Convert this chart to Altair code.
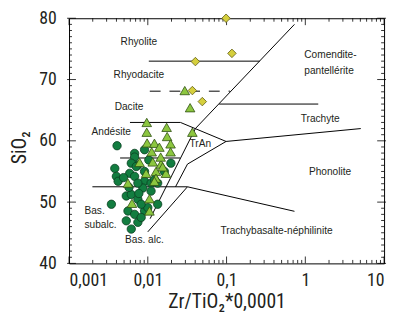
import altair as alt
import pandas as pd

# ---------------- data ----------------
# basalt/andesite samples (dark green circles)
circ_x = [0.00407, 0.0068, 0.00909, 0.0068, 0.00748, 0.00617, 0.00381, 0.00399, 0.0042, 0.00589,
          0.00713, 0.0068, 0.00909, 0.00909, 0.00865, 0.00748, 0.011, 0.01214, 0.01335, 0.01963,
          0.01622, 0.00345, 0.00533, 0.00617, 0.00748, 0.0056, 0.0068, 0.00909, 0.00748, 0.00617,
          0.01335, 0.01, 0.00824, 0.011, 0.00533, 0.00824, 0.00492, 0.0103, 0.0077, 0.00577]
circ_y = [59.2, 57.95, 58.55, 57.35, 56.05, 56.35, 55.5, 54.2, 53.4, 54.7,
          55.8, 54.2, 55.0, 53.4, 52.3, 53.1, 53.1, 53.65, 53.1, 56.35,
          55.0, 49.65, 51.0, 51.25, 50.45, 48.55, 48.0, 48.55, 46.7, 45.6,
          49.65, 49.1, 49.65, 51.8, 46.95, 47.5, 54.0, 56.87, 51.4, 52.4]

# light green triangles
tri_x = [0.0097, 0.0097, 0.01734, 0.0176, 0.01946, 0.01946, 0.0098, 0.01214, 0.01403, 0.0112,
         0.00787, 0.01156, 0.0147, 0.0127, 0.00952, 0.0170, 0.0056, 0.0127, 0.0105, 0.0063,
         0.0105, 0.02946, 0.03445, 0.0368, 0.01545, 0.01457, 0.01214]
tri_y = [63.0, 61.4, 62.2, 60.7, 59.5, 58.2, 59.65, 59.6, 58.96, 58.2,
         56.47, 56.55, 56.2, 55.0, 54.7, 54.7, 53.1, 53.9, 50.55, 49.8,
         48.55, 68.2, 65.4, 61.4, 55.75, 57.35, 53.4]

# yellow diamonds
dia_x = [0.0986, 0.0402, 0.117, 0.0368, 0.0492]
dia_y = [80.0, 72.93, 74.27, 68.2, 66.4]

# field boundaries (Winchester & Floyd)
seg_A_x, seg_A_y = [0.0103, 0.264], [73.0, 73.0]
seg_C_x, seg_C_y = [0.728, 0.0402, 0.0107], [79.0, 62.0, 47.3]
seg_D_x, seg_D_y = [0.00594, 0.026, 0.0986], [63.0, 63.0, 59.9]
seg_E_x, seg_E_y = [0.0986, 5.06], [59.9, 62.0]
seg_F_x, seg_F_y = [0.0805, 1.46], [66.0, 66.0]
seg_G_x, seg_G_y = [0.0986, 0.0319, 0.0225], [59.9, 56.2, 52.5]
seg_H_x, seg_H_y = [0.00445, 0.0258], [57.2, 57.2]
seg_I_x, seg_I_y = [0.00198, 0.0319], [52.5, 52.5]
seg_J_x, seg_J_y = [0.0319, 0.728], [52.5, 48.5]
seg_K_x, seg_K_y = [0.0319, 0.01], [52.5, 45.15]
dash_x, dash_y = [0.0106, 0.111], [68.1, 68.1]

# field names
lab_c_text = ["Rhyolite", "Rhyodacite", "Dacite", "Andésite", "Trachyte", "TrAn",
              "Phonolite", "Trachybasalte-néphilinite"]
lab_c_x = [0.00771, 0.00771, 0.00577, 0.00343, 1.545, 0.0464, 2.06, 0.4315]
lab_c_y = [76.15, 70.7, 65.55, 61.4, 63.6, 59.44, 54.95, 45.3]

lab_l_text = ["Comendite-", "pantellérite", "Bas.", "subalc.", "Bas. alc."]
lab_l_x = [0.97, 0.97, 0.00157, 0.00157, 0.00514]
lab_l_y = [74.06, 71.33, 48.52, 46.27, 43.86]

x_major = [0.001, 0.01, 0.1, 1, 10]
x_minor = [m * 10.0 ** k for k in range(-3, 1) for m in range(2, 10)]
y_major = [40, 50, 60, 70, 80]
y_minor = [v for v in range(41, 80) if v % 10 != 0]

# ---------------- chart ----------------
W, H = 320, 249
COND = "Roboto Condensed, Roboto, sans-serif"
TXT = "Liberation Sans, Arial, sans-serif"

xs = alt.Scale(type="log", domain=[0.001, 10], nice=False)
ys = alt.Scale(domain=[40, 80], nice=False, zero=False)

xaxis = alt.Axis(values=x_major, labelExpr="replace(toString(datum.value), '.', ',')",
                 title="Zr/TiO₂*0,0001", labelPadding=8, titleY=45,
                 titleBaseline="alphabetic")
yaxis = alt.Axis(values=y_major, title="SiO₂", labelPadding=13, titleX=-50, titleY=131,
                 titleAngle=270, titleBaseline="middle", titleAlign="center")

X = lambda: alt.X("x:Q", scale=xs, axis=xaxis)
Y = lambda: alt.Y("y:Q", scale=ys, axis=yaxis)

segs = {"A": (seg_A_x, seg_A_y), "C": (seg_C_x, seg_C_y), "D": (seg_D_x, seg_D_y),
        "E": (seg_E_x, seg_E_y), "F": (seg_F_x, seg_F_y), "G": (seg_G_x, seg_G_y),
        "H": (seg_H_x, seg_H_y), "I": (seg_I_x, seg_I_y), "J": (seg_J_x, seg_J_y),
        "K": (seg_K_x, seg_K_y)}
rows = []
for k, (sx, sy) in segs.items():
    for i, (a, b) in enumerate(zip(sx, sy)):
        rows.append({"seg": k, "o": i, "x": a, "y": b})
df_lines = pd.DataFrame(rows)
df_dash = pd.DataFrame({"seg": "B", "o": [0, 1], "x": dash_x, "y": dash_y})

lines = alt.Chart(df_lines).mark_line(color="black", strokeWidth=1).encode(
    x=X(), y=Y(), detail="seg:N", order="o:Q")
dashed = alt.Chart(df_dash).mark_line(color="black", strokeWidth=1, strokeDash=[11, 9]).encode(
    x=X(), y=Y(), detail="seg:N", order="o:Q")

df_xmaj = pd.DataFrame({"x": x_major})
df_xmin = pd.DataFrame({"x": x_minor})
df_ymaj = pd.DataFrame({"y": y_major})
df_ymin = pd.DataFrame({"y": y_minor})

tk = dict(color="black", strokeWidth=0.8)
ticks = [
    alt.Chart(df_xmin).mark_rule(**tk).encode(x=X(), y=alt.value(H), y2=alt.value(H - 3.5)),
    alt.Chart(df_xmaj).mark_rule(**tk).encode(x=X(), y=alt.value(H), y2=alt.value(H - 7)),
    alt.Chart(df_xmin).mark_rule(**tk).encode(x=X(), y=alt.value(0), y2=alt.value(3.5)),
    alt.Chart(df_xmaj).mark_rule(**tk).encode(x=X(), y=alt.value(0), y2=alt.value(7)),
    alt.Chart(df_ymin).mark_rule(**tk).encode(y=Y(), x=alt.value(0), x2=alt.value(3)),
    alt.Chart(df_ymaj).mark_rule(**tk).encode(y=Y(), x=alt.value(-2), x2=alt.value(7)),
    alt.Chart(df_ymin).mark_rule(**tk).encode(y=Y(), x=alt.value(W), x2=alt.value(W - 3)),
    alt.Chart(df_ymaj).mark_rule(**tk).encode(y=Y(), x=alt.value(W + 2), x2=alt.value(W - 7)),
]

df_c = pd.DataFrame({"x": circ_x, "y": circ_y})
df_t = pd.DataFrame({"x": tri_x, "y": tri_y})
df_d = pd.DataFrame({"x": dia_x, "y": dia_y})

circles = alt.Chart(df_c).mark_point(shape="circle", filled=True, size=72, fill="#127d40",
                                     stroke="#0a3f20", strokeWidth=0.8, opacity=1).encode(x=X(), y=Y())
tris = alt.Chart(df_t).mark_point(shape="triangle-up", filled=True, size=95, fill="#8cc63f",
                                  stroke="#2e4f12", strokeWidth=0.8, opacity=1).encode(x=X(), y=Y())
dias = alt.Chart(df_d).mark_point(shape="diamond", filled=True, size=75, fill="#d5cf3d",
                                  stroke="#5e5a12", strokeWidth=0.8, opacity=1).encode(x=X(), y=Y())

df_lc = pd.DataFrame({"x": lab_c_x, "y": lab_c_y, "t": lab_c_text})
df_ll = pd.DataFrame({"x": lab_l_x, "y": lab_l_y, "t": lab_l_text})
txt_c = alt.Chart(df_lc).mark_text(font=TXT, fontSize=10.3, color="#231f20", align="center",
                                   baseline="middle").encode(x=X(), y=Y(), text="t:N")
txt_l = alt.Chart(df_ll).mark_text(font=TXT, fontSize=10.3, color="#231f20", align="left",
                                   baseline="middle").encode(x=X(), y=Y(), text="t:N")

chart = alt.layer(lines, dashed, *ticks, txt_c, txt_l, circles, tris, dias).properties(
    width=W, height=H,
    autosize=alt.AutoSizeParams(type="none"),
    padding={"left": 62, "top": 8, "right": 5, "bottom": 50},
).configure_view(stroke="black", strokeWidth=1).configure_axis(
    grid=False, domain=False, ticks=False, tickSize=0,
    labelFont=COND, labelFontSize=18, labelColor="#231f20",
    titleFont=COND, titleFontSize=20, titleFontWeight="normal", titleColor="#231f20",
)

chart.save("out.html", embed_options={"renderer": "svg", "actions": False})
